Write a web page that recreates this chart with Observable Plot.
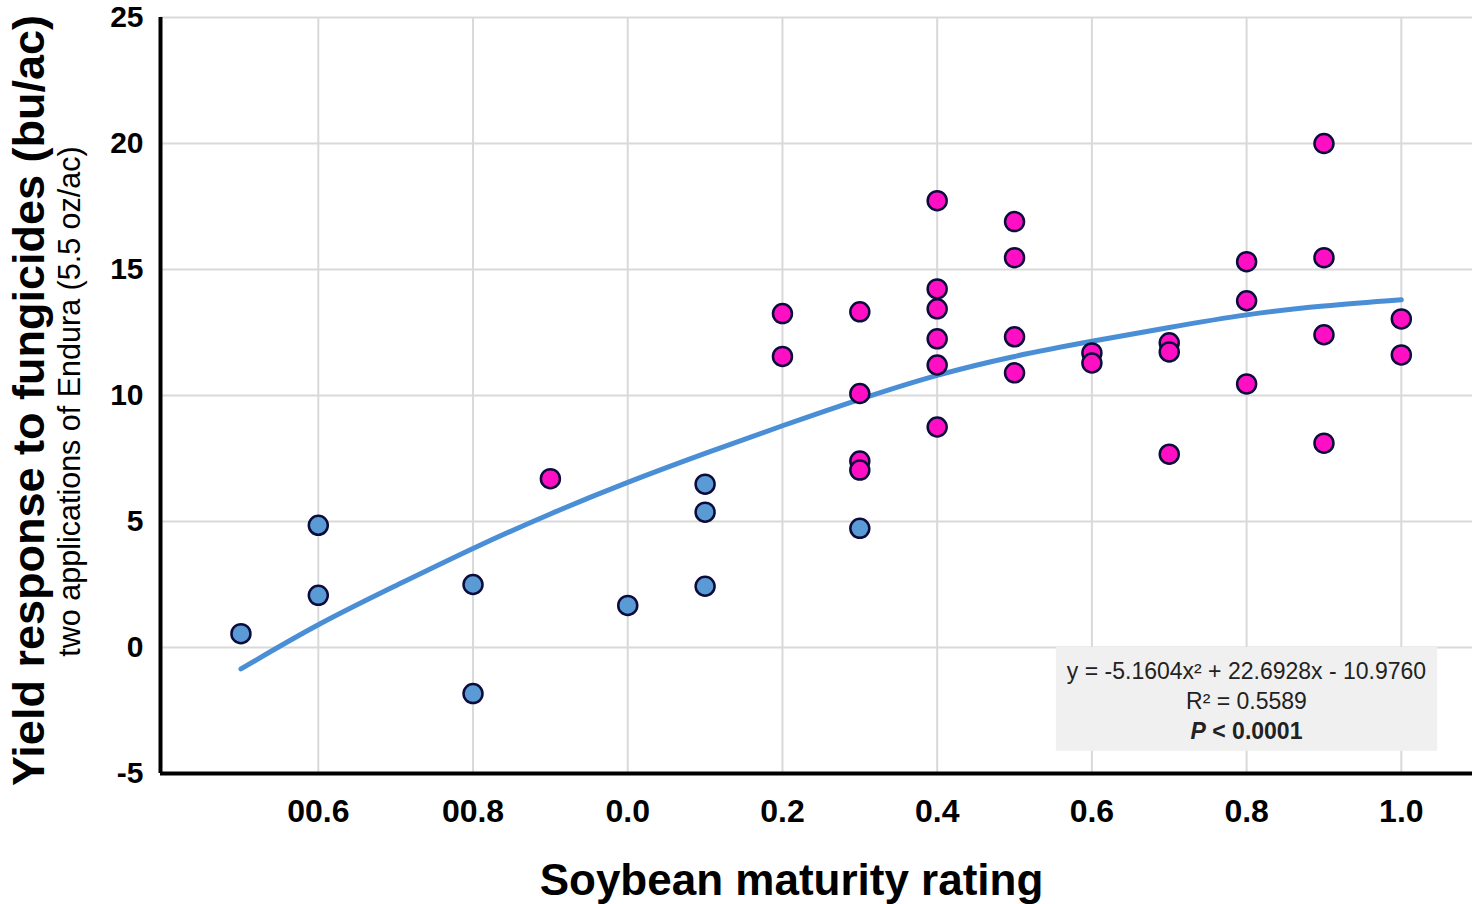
<!DOCTYPE html>
<html>
<head>
<meta charset="utf-8">
<script src="https://cdn.jsdelivr.net/npm/d3@7"></script>
<script src="https://cdn.jsdelivr.net/npm/@observablehq/plot@0.6"></script>
<style>
  html, body { margin: 0; padding: 0; background: #fff; overflow: hidden; }
  #chart svg { display: block; }
</style>
</head>
<body>
<div id="chart"></div>
<script>
// ---- Data ----
const pointMaturity = [
  "00.5",
  "00.6", "00.6",
  "00.8", "00.8",
  "00.9",
  "0.0",
  "0.1", "0.1", "0.1",
  "0.2", "0.2",
  "0.3", "0.3", "0.3", "0.3", "0.3",
  "0.4", "0.4", "0.4", "0.4", "0.4", "0.4",
  "0.5", "0.5", "0.5", "0.5",
  "0.6", "0.6",
  "0.7", "0.7", "0.7",
  "0.8", "0.8", "0.8",
  "0.9", "0.9", "0.9", "0.9",
  "1.0", "1.0"
];
const pointResponse = [
  0.55,
  4.85, 2.07,
  2.50, -1.83,
  6.70,
  1.67,
  6.48, 5.37, 2.43,
  13.25, 11.55,
  13.32, 10.08, 7.40, 7.04, 4.73,
  17.73, 14.23, 13.44, 12.25, 11.21, 8.75,
  16.90, 15.47, 12.33, 10.90,
  11.69, 11.29,
  12.09, 11.73, 7.67,
  15.31, 13.76, 10.46,
  20.00, 15.47, 12.41, 8.11,
  13.04, 11.61
];
const pointGroup = [
  "early",
  "early", "early",
  "early", "early",
  "late",
  "early",
  "early", "early", "early",
  "late", "late",
  "late", "late", "late", "late", "early",
  "late", "late", "late", "late", "late", "late",
  "late", "late", "late", "late",
  "late", "late",
  "late", "late", "late",
  "late", "late", "late",
  "late", "late", "late", "late",
  "late", "late"
];

// fitted curve at each maturity rating
const curveMaturity = ["00.5","00.6","00.7","00.8","00.9","0.0","0.1","0.2","0.3","0.4","0.5","0.6","0.7","0.8","0.9","1.0"];
const curveResponse = [-0.85, 0.90, 2.45, 3.93, 5.30, 6.55, 7.70, 8.80, 9.85, 10.80, 11.55, 12.15, 12.70, 13.20, 13.55, 13.80];

const xTickLabels = ["00.6", "00.8", "0.0", "0.2", "0.4", "0.6", "0.8", "1.0"];
const yTickValues = [-5, 0, 5, 10, 15, 20, 25];
const yGridValues = [0, 5, 10, 15, 20, 25];

const annotationLines = ["y = -5.1604x\u00B2 + 22.6928x - 10.9760", "R\u00B2 = 0.5589", "P < 0.0001"];

const xTitle = "Soybean maturity rating";
const yTitle = "Yield response to fungicides (bu/ac)";
const ySubtitle = "two applications of Endura (5.5 oz/ac)";

// ---- helpers ----
// "00.x" ratings sit one unit before "0.x" on the axis
const toNum = s => s.startsWith("00") ? parseFloat(s.slice(1)) - 1 : parseFloat(s);

const points = pointMaturity.map((m, i) => ({x: toNum(m), y: pointResponse[i], g: pointGroup[i]}));
const curve = curveMaturity.map((m, i) => ({x: toNum(m), y: curveResponse[i]}));
const xTicks = xTickLabels.map(l => ({x: toNum(l), label: l}));

const FONT = "'Liberation Sans', Arial, Helvetica, sans-serif";
const xDomain = [-0.604, 1.092];
const gridColor = "#d9d9d9";

const chart = Plot.plot({
  width: 1474,
  height: 904,
  marginLeft: 160,
  marginRight: 2,
  marginTop: 17,
  marginBottom: 131,
  style: {fontFamily: FONT, background: "#fff", overflow: "visible"},
  x: {domain: xDomain, axis: null},
  y: {domain: [-5, 25], axis: null},
  color: {domain: ["early", "late"], range: ["#5b9bd5", "#ff0fc4"]},
  marks: [
    Plot.ruleX(xTicks, {x: "x", stroke: gridColor, strokeWidth: 2}),
    Plot.ruleY(yGridValues, {stroke: gridColor, strokeWidth: 2}),
    Plot.line(curve, {x: "x", y: "y", stroke: "#4a8fd6", strokeWidth: 5, curve: "natural"}),
    Plot.dot(points, {x: "x", y: "y", fill: "g", r: 9.5, stroke: "#0c0c3c", strokeWidth: 2.5}),
    Plot.ruleX([xDomain[0]], {stroke: "#000", strokeWidth: 4}),
    Plot.ruleY([-5], {stroke: "#000", strokeWidth: 4}),
    // tick labels
    Plot.text(xTicks, {x: "x", text: "label", frameAnchor: "bottom", dy: 38, lineAnchor: "middle",
      fontSize: 32, fontWeight: "bold", fill: "#000"}),
    Plot.text(yTickValues, {y: d => d, text: d => String(d), frameAnchor: "left", dx: -17, textAnchor: "end",
      lineAnchor: "middle", fontSize: 30, fontWeight: "bold", fill: "#000"}),
    // axis titles
    Plot.text([xTitle], {text: d => d, frameAnchor: "bottom", dx: -25, dy: 107, lineAnchor: "middle",
      textAnchor: "middle", fontSize: 44, fontWeight: "bold", fill: "#000"}),
    Plot.text([yTitle], {text: d => d, frameAnchor: "left", dx: -131, dy: 5, rotate: -90, lineAnchor: "middle",
      textAnchor: "middle", fontSize: 45, fontWeight: "bold", fill: "#000"}),
    Plot.text([ySubtitle], {text: d => d, frameAnchor: "left", dx: -90, dy: 6, rotate: -90, lineAnchor: "middle",
      textAnchor: "middle", fontSize: 30.5, fill: "#000"}),
    // regression annotation
    ...annotationLines.map((line, i) => Plot.text([line], {
      text: d => d, frameAnchor: "bottom-right", dx: -226, dy: -102 + 30 * i, textAnchor: "middle",
      lineAnchor: "middle", fontSize: 23, fontWeight: i === 2 ? "bold" : "normal", fill: "#222"
    }))
  ]
});

document.getElementById("chart").appendChild(chart);

// italic P and a light grey box behind the annotation
const svg = chart;
const allText = Array.from(svg.querySelectorAll("text"));
const annTexts = allText.filter(t => annotationLines.includes(t.textContent));
const pText = annTexts.find(t => t.textContent === annotationLines[2]);
if (pText) {
  pText.textContent = "";
  const ns = "http://www.w3.org/2000/svg";
  const a = document.createElementNS(ns, "tspan");
  a.setAttribute("font-style", "italic");
  a.textContent = "P";
  const b = document.createElementNS(ns, "tspan");
  b.textContent = " < 0.0001";
  pText.appendChild(a); pText.appendChild(b);
}
if (annTexts.length) {
  const sr = svg.getBoundingClientRect();
  let x0 = Infinity, y0 = Infinity, x1 = -Infinity, y1 = -Infinity;
  annTexts.forEach(t => {
    const r = t.getBoundingClientRect();
    x0 = Math.min(x0, r.left - sr.left); y0 = Math.min(y0, r.top - sr.top);
    x1 = Math.max(x1, r.right - sr.left); y1 = Math.max(y1, r.bottom - sr.top);
  });
  const rect = document.createElementNS("http://www.w3.org/2000/svg", "rect");
  rect.setAttribute("x", x0 - 11);
  rect.setAttribute("y", y0 - 11);
  rect.setAttribute("width", x1 - x0 + 22);
  rect.setAttribute("height", y1 - y0 + 18);
  rect.setAttribute("fill", "#f0f0f0");
  let g = annTexts[0];
  while (g.parentNode !== svg) g = g.parentNode;
  svg.insertBefore(rect, g);
}
</script>
</body>
</html>
